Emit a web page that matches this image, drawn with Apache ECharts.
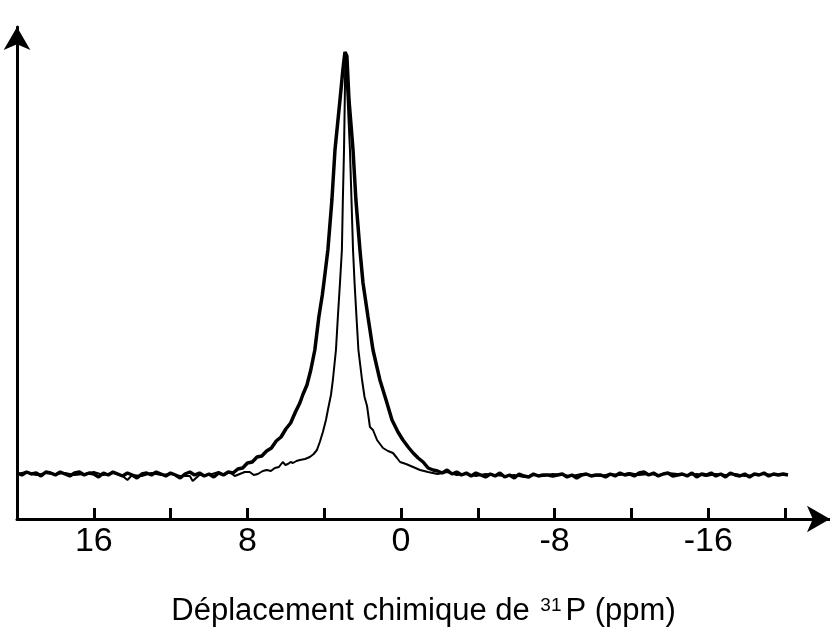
<!DOCTYPE html>
<html><head><meta charset="utf-8">
<script src="https://cdn.jsdelivr.net/npm/echarts@6/dist/echarts.min.js"></script>
<style>html,body{margin:0;padding:0;background:#fff}#c{width:830px;height:637px}</style>
</head><body><div id="c"></div>
<script>
// Broad (thick) spectrum: chemical shift (ppm) and intensity (arbitrary units)
const broadPpm = [
  20,19.75,19.5,19.25,19,18.75,18.5,18.25,18,17.75,17.5,17.25,17,16.75,16.5,16.25,16,15.75,15.5,15.25,
  15,14.75,14.5,14.25,14,13.75,13.5,13.25,13,12.75,12.5,12.25,12,11.75,11.5,11.25,11,10.75,10.5,10.25,
  10,9.75,9.5,9.25,
  9,8.75,8.5,8.25,8,7.75,7.5,7.25,7,6.75,6.5,6.25,6,5.75,5.5,5.27,5.1,4.9,4.7,4.49,
  4.28,4.1,4.02,3.81,3.6,3.44,3.18,3.03,2.92,2.82,2.71,2.5,2.35,2.14,1.98,1.72,1.46,1.1,0.78,0.47,
  0.16,-0.1,-0.37,-0.63,-0.89,-1.15,-1.41,-1.67,
  -1.9,-2.15,-2.4,-2.65,-2.9,-3.15,-3.4,-3.65,-3.9,-4.15,-4.4,-4.65,-4.9,-5.15,-5.4,-5.65,-5.9,-6.15,-6.4,-6.65,
  -6.9,-7.15,-7.4,-7.65,-7.9,-8.15,-8.4,-8.65,-8.9,-9.15,-9.4,-9.65,-9.9,-10.15,-10.4,-10.65,-10.9,-11.15,-11.4,-11.65,
  -11.9,-12.15,-12.4,-12.65,-12.9,-13.15,-13.4,-13.65,-13.9,-14.15,-14.4,-14.65,-14.9,-15.15,-15.4,-15.65,-15.9,-16.15,-16.4,-16.65,
  -16.9,-17.15,-17.4,-17.65,-17.9,-18.15,-18.4,-18.65,-18.9,-19.15,-19.4,-19.65,-19.9,-20.15
];
const broadInt = [
  46,44,47,45,46,43,47,46,44,47,45,43,46,47,44,46,45,42,46,44,
  47,45,43,46,44,41,45,46,44,47,45,43,46,44,41,45,47,44,46,43,
  45,42,46,44,
  47,46,50,51,56,57,62,63,68,71,78,82,90,96,107,116,125,134,149,169,
  202,224,236,269,319,369,419,449,467,463,419,369,319,269,236,202,169,139,119,99,
  87,79,72,66,61,57,51,49,
  48,46,49,45,47,44,46,43,46,44,42,45,43,46,42,44,41,45,43,42,
  45,43,44,44,43,44,45,42,44,41,44,45,43,44,44,42,45,43,46,44,
  45,43,46,47,44,46,43,45,46,43,44,45,43,46,42,45,44,46,43,45,
  42,46,44,43,45,42,45,44,46,43,45,44,45,44
];
// Narrow (thin) spectrum
const narrowPpm = [
  20,19.5,19,18.5,18,17.5,17,16.5,16,15.5,15,14.5,14.25,14,13.5,13,12.5,12,11.5,11,
  10.85,10.5,10,9.5,
  9.2,8.92,8.66,8.4,8.14,7.88,7.67,7.46,7.2,6.99,6.78,6.57,6.36,6.16,6.02,5.89,5.75,5.63,5.45,5.27,
  5.0,4.75,4.55,4.38,4.23,4.07,3.91,3.81,3.65,3.55,3.39,3.29,3.18,3.08,3.03,2.97,2.93,2.9,2.84,2.78,
  2.66,2.58,2.5,2.42,2.32,2.22,2.03,1.9,1.77,1.62,1.46,1.25,0.94,0.68,0.42,0.21,0.05,-0.26,-0.63,-0.99,
  -1.41,
  -1.9,-2.4,-2.9,-3.4,-3.9,-4.4,-4.9,-5.4,-5.9,-6.4,-6.9,-7.4,-7.9,-8.4,-8.9,-9.4,-9.9,-10.4,-10.9,-11.4,
  -11.9,-12.4,-12.9,-13.4,-13.9,-14.4,-14.9,-15.4,-15.9,-16.4,-16.9,-17.4,-17.9,-18.4,-18.9,-19.4,-19.9,-20.15
];
const narrowInt = [
  45,47,44,46,45,46,44,45,47,44,46,43,39,44,43,46,44,45,43,43,
  38,44,44,47,
  44,47,43,45,47,47,44,45,48,49,48,51,52,57,54,55,57,56,58,59,
  60,62,65,69,77,87,99,109,124,139,169,202,236,269,319,369,419,466,440,419,
  369,319,269,236,202,169,139,122,113,92,89,79,71,68,66,61,57,55,52,49,
  47,
  45,47,44,45,43,45,44,43,44,42,44,43,45,44,43,45,44,43,45,44,
  46,44,45,44,46,45,44,45,43,45,44,45,43,44,45,44,45,44
];
const tickValues = [16,12,8,4,0,-4,-8,-12,-16,-20];
const labelValues = [16,8,0,-8,-16];

const chart = echarts.init(document.getElementById('c'), null, {renderer:'canvas'});
const font = 'Liberation Sans, Arial, sans-serif';
chart.setOption({
  animation: false,
  backgroundColor: '#fff',
  grid: {left:17, right:0, top:27, bottom:118, containLabel:false, outerBoundsMode:'none'},
  xAxis: {
    type:'value', inverse:true, min:-22.34, max:20,
    axisLine:{show:true, onZero:false, lineStyle:{color:'#000', width:3}, symbol:['none','arrow'], symbolSize:[20,23]},
    axisTick:{show:true, inside:true, length:11, lineStyle:{color:'#000', width:3}, customValues:tickValues},
    axisLabel:{customValues:labelValues, fontSize:34, color:'#000', fontFamily:font, margin:6},
    splitLine:{show:false},
    name:'Déplacement chimique de {sup|31}P (ppm)',
    nameLocation:'middle', nameGap:77,
    nameTextStyle:{fontSize:31, color:'#000', fontFamily:font,
      rich:{sup:{fontSize:19, color:'#000', fontFamily:font, verticalAlign:'top', padding:[0,4,0,2]}}}
  },
  yAxis: {
    type:'value', min:0, max:492,
    axisLine:{show:true, onZero:false, lineStyle:{color:'#000', width:3}, symbol:['none','arrow'], symbolSize:[20,23]},
    axisTick:{show:false}, axisLabel:{show:false}, splitLine:{show:false}
  },
  series: [
    {type:'line', data:narrowPpm.map((x,i)=>[x, narrowInt[i]]), showSymbol:false, symbol:'none',
     lineStyle:{color:'#000', width:2}, silent:true},
    {type:'line', data:broadPpm.map((x,i)=>[x, broadInt[i]]), showSymbol:false, symbol:'none',
     lineStyle:{color:'#000', width:3.5}, silent:true}
  ]
});
</script>
</body></html>
